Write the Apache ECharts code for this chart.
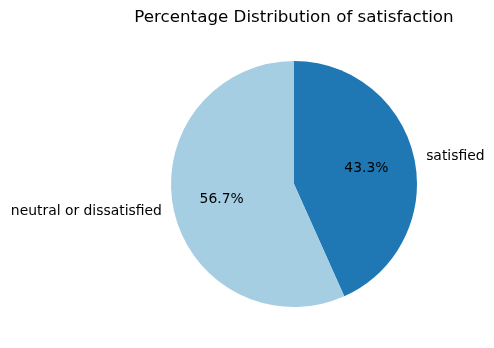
<!DOCTYPE html>
<html>
<head>
<meta charset="utf-8">
<script src="https://cdn.jsdelivr.net/npm/echarts@6/dist/echarts.min.js"></script>
<style>html,body{margin:0;padding:0;background:#fff;}#c{width:494px;height:348px;}</style>
</head>
<body>
<div id="c"></div>
<script>
const categories = ["satisfied", "neutral or dissatisfied"];
const values = [43.3, 56.7];
const colors = ["#1f78b4", "#a6cee3"];
const titleText = "Percentage Distribution of satisfaction";

const chart = echarts.init(document.getElementById('c'), null, {renderer: 'canvas'});
const font = "DejaVu Sans";
const R = 123;
const center = [294, 184];
const data = categories.map((c, i) => ({name: c, value: values[i], itemStyle: {color: colors[i]}}));
const dataInner = categories.map((c, i) => ({name: c, value: values[i]}));

chart.setOption({
  animation: false,
  title: {
    text: titleText, left: 289, top: 4, textAlign: 'center',
    textStyle: {fontFamily: font, fontSize: 16.7, fontWeight: 'normal', color: '#000'}
  },
  series: [
    {
      type: 'pie', center: center, radius: [0, R], startAngle: 90, clockwise: true,
      avoidLabelOverlap: false, silent: true,
      data: data,
      label: {show: true, position: 'outside', formatter: '{b}', fontFamily: font, fontSize: 13.9, color: '#000', distanceToLabelLine: 5},
      labelLine: {show: false, length: 7, length2: 0},
      itemStyle: {borderWidth: 0}
    },
    {
      type: 'pie', center: center, radius: [19, R], startAngle: 90, clockwise: true,
      avoidLabelOverlap: false, silent: true,
      data: dataInner,
      itemStyle: {color: 'rgba(0,0,0,0)', borderWidth: 0},
      label: {show: true, position: 'inside', fontFamily: font, fontSize: 13.9, color: '#000',
        formatter: p => p.value.toFixed(1) + '%'},
      labelLine: {show: false}
    }
  ]
});
</script>
</body>
</html>
